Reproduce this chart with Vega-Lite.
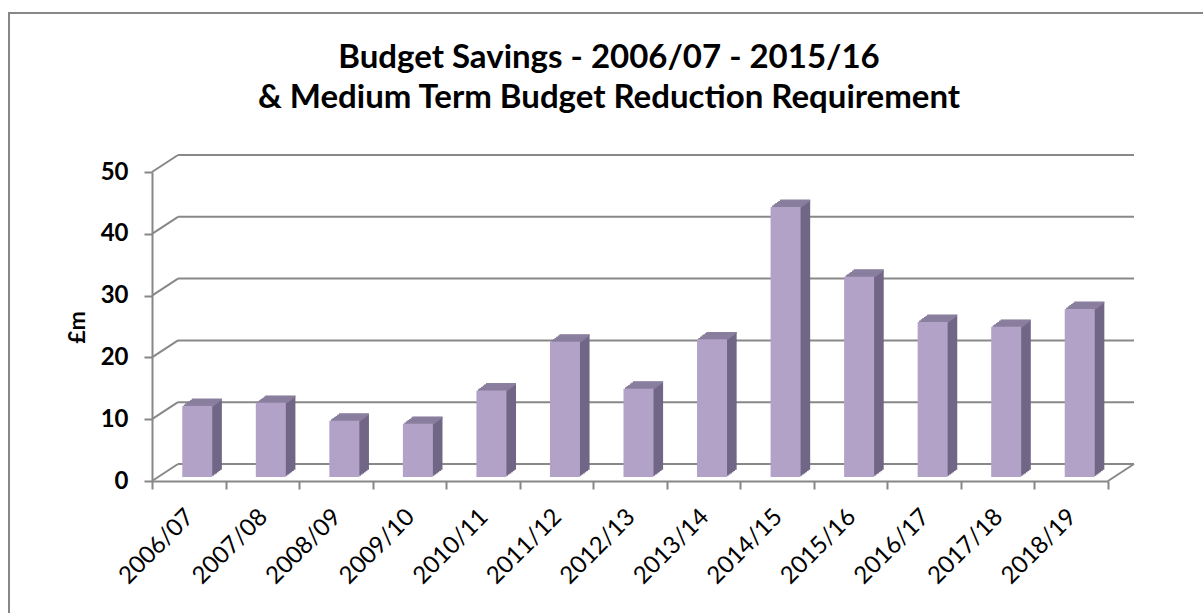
{
  "$schema": "https://vega.github.io/schema/vega-lite/v6.json",
  "width": 1200,
  "height": 605,
  "autosize": "none",
  "padding": {"left": 9, "top": 13, "right": -6, "bottom": -5},
  "background": "white",
  "config": {
    "view": {"stroke": "#878787", "strokeWidth": 2},
    "font": "Lato"
  },
  "title": {
    "text": ["Budget Savings - 2006/07 - 2015/16", "& Medium Term Budget Reduction Requirement"],
    "font": "Lato",
    "fontSize": 33,
    "fontWeight": "bold",
    "color": "#000000",
    "lineHeight": 40,
    "anchor": "middle",
    "frame": "group",
    "baseline": "top",
    "offset": -102
  },
  "datasets": {
    "bars": [
      {"year": "2006/07", "v": 11.5},
      {"year": "2007/08", "v": 12.0},
      {"year": "2008/09", "v": 9.1},
      {"year": "2009/10", "v": 8.6},
      {"year": "2010/11", "v": 14.0},
      {"year": "2011/12", "v": 21.9},
      {"year": "2012/13", "v": 14.3},
      {"year": "2013/14", "v": 22.3},
      {"year": "2014/15", "v": 43.7},
      {"year": "2015/16", "v": 32.4},
      {"year": "2016/17", "v": 25.1},
      {"year": "2017/18", "v": 24.3},
      {"year": "2018/19", "v": 27.2}
    ],
    "grid": [{"g": 0}, {"g": 10}, {"g": 20}, {"g": 30}, {"g": 40}, {"g": 50}],
    "floor": [{"g": 0}]
  },
  "layer": [
    {
      "data": {"name": "bars"},
      "mark": {"type": "bar", "size": 30, "color": "#b3a2c7", "opacity": 0, "xOffset": 8.5, "yOffset": -4, "y2Offset": -4},
      "encoding": {
        "x": {"field": "year", "type": "nominal", "sort": null,
              "scale": {"type": "band", "domain": ["2006/07","2007/08","2008/09","2009/10","2010/11","2011/12","2012/13","2013/14","2014/15","2015/16","2016/17","2017/18","2018/19"], "range": [143, 1099], "paddingInner": 0, "paddingOuter": 0},
              "axis": {"title": null, "orient": "bottom", "offset": -137, "tickBand": "extent", "domainColor": "#878787", "domainWidth": 2,
                       "tickColor": "#878787", "tickWidth": 2, "tickSize": 8, "labelAngle": -45, "labelAlign": "right", "labelBaseline": "middle",
                       "labelPadding": 24, "labelOffset": 1, "labelFont": "Lato", "labelFontSize": 24, "labelColor": "#000000", "labelOverlap": false, "labelBound": false}},
        "y": {"field": "v", "type": "quantitative",
              "scale": {"domain": [0, 50], "range": [468, 159], "nice": false, "zero": true},
              "axis": {"title": "£m", "orient": "left", "offset": -143, "values": [0, 10, 20, 30, 40, 50], "grid": false,
                       "domainColor": "#878787", "domainWidth": 2, "tickColor": "#878787", "tickWidth": 2, "tickSize": 8,
                       "labelPadding": 16, "labelFont": "Lato", "labelFontSize": 24, "labelFontWeight": "bold", "labelColor": "#000000",
                       "titleFont": "Lato", "titleFontSize": 23, "titleFontWeight": "bold", "titleColor": "#000000", "titleAngle": -90,
                       "titleX": -75, "titleY": 314, "titleAlign": "center", "titleBaseline": "middle"}},
        "y2": {"datum": 0}
      }
    },
    {
      "data": {"name": "grid"},
      "mark": {"type": "rule", "color": "#888888", "strokeWidth": 2, "xOffset": 26, "x2Offset": 26, "yOffset": -17, "y2Offset": -17},
      "encoding": {
        "x": {"datum": "2006/07", "type": "nominal", "bandPosition": 0},
        "x2": {"datum": "2018/19", "bandPosition": 1},
        "y": {"field": "g", "type": "quantitative"},
        "y2": {"field": "g"}
      }
    },
    {
      "data": {"name": "grid"},
      "mark": {"type": "rule", "color": "#888888", "strokeWidth": 2, "x2Offset": 26, "y2Offset": -17},
      "encoding": {
        "x": {"datum": "2006/07", "type": "nominal", "bandPosition": 0},
        "x2": {"datum": "2006/07", "bandPosition": 0},
        "y": {"field": "g", "type": "quantitative"},
        "y2": {"field": "g"}
      }
    },
    {
      "data": {"name": "floor"},
      "mark": {"type": "rule", "color": "#888888", "strokeWidth": 2, "x2Offset": 26, "y2Offset": -17},
      "encoding": {
        "x": {"datum": "2018/19", "type": "nominal", "bandPosition": 1},
        "x2": {"datum": "2018/19", "bandPosition": 1},
        "y": {"field": "g", "type": "quantitative"},
        "y2": {"field": "g"}
      }
    },
    {"data": {"name": "bars"}, "mark": {"type": "bar", "size": 30, "color": "#716685", "xOffset": 10.1, "yOffset": -5.2, "y2Offset": -5.2},
     "encoding": {"x": {"field": "year", "type": "nominal"}, "y": {"field": "v", "type": "quantitative"}, "y2": {"datum": 0}}},
    {"data": {"name": "bars"}, "mark": {"type": "bar", "size": 30, "color": "#716685", "xOffset": 11.7, "yOffset": -6.4, "y2Offset": -6.4},
     "encoding": {"x": {"field": "year", "type": "nominal"}, "y": {"field": "v", "type": "quantitative"}, "y2": {"datum": 0}}},
    {"data": {"name": "bars"}, "mark": {"type": "bar", "size": 30, "color": "#716685", "xOffset": 13.3, "yOffset": -7.6, "y2Offset": -7.6},
     "encoding": {"x": {"field": "year", "type": "nominal"}, "y": {"field": "v", "type": "quantitative"}, "y2": {"datum": 0}}},
    {"data": {"name": "bars"}, "mark": {"type": "bar", "size": 30, "color": "#716685", "xOffset": 14.9, "yOffset": -8.8, "y2Offset": -8.8},
     "encoding": {"x": {"field": "year", "type": "nominal"}, "y": {"field": "v", "type": "quantitative"}, "y2": {"datum": 0}}},
    {"data": {"name": "bars"}, "mark": {"type": "bar", "size": 30, "color": "#716685", "xOffset": 16.5, "yOffset": -10.0, "y2Offset": -10.0},
     "encoding": {"x": {"field": "year", "type": "nominal"}, "y": {"field": "v", "type": "quantitative"}, "y2": {"datum": 0}}},
    {"data": {"name": "bars"}, "mark": {"type": "bar", "size": 30, "color": "#716685", "xOffset": 18.1, "yOffset": -11.2, "y2Offset": -11.2},
     "encoding": {"x": {"field": "year", "type": "nominal"}, "y": {"field": "v", "type": "quantitative"}, "y2": {"datum": 0}}},
    {"data": {"name": "bars"}, "mark": {"type": "bar", "size": 30, "color": "#8a7f9e", "xOffset": 10.1, "yOffset": -5.2, "y2Offset": -3.5},
     "encoding": {"x": {"field": "year", "type": "nominal"}, "y": {"field": "v", "type": "quantitative"}, "y2": {"field": "v"}}},
    {"data": {"name": "bars"}, "mark": {"type": "bar", "size": 30, "color": "#8a7f9e", "xOffset": 11.7, "yOffset": -6.4, "y2Offset": -4.7},
     "encoding": {"x": {"field": "year", "type": "nominal"}, "y": {"field": "v", "type": "quantitative"}, "y2": {"field": "v"}}},
    {"data": {"name": "bars"}, "mark": {"type": "bar", "size": 30, "color": "#8a7f9e", "xOffset": 13.3, "yOffset": -7.6, "y2Offset": -5.9},
     "encoding": {"x": {"field": "year", "type": "nominal"}, "y": {"field": "v", "type": "quantitative"}, "y2": {"field": "v"}}},
    {"data": {"name": "bars"}, "mark": {"type": "bar", "size": 30, "color": "#8a7f9e", "xOffset": 14.9, "yOffset": -8.8, "y2Offset": -7.1},
     "encoding": {"x": {"field": "year", "type": "nominal"}, "y": {"field": "v", "type": "quantitative"}, "y2": {"field": "v"}}},
    {"data": {"name": "bars"}, "mark": {"type": "bar", "size": 30, "color": "#8a7f9e", "xOffset": 16.5, "yOffset": -10.0, "y2Offset": -8.3},
     "encoding": {"x": {"field": "year", "type": "nominal"}, "y": {"field": "v", "type": "quantitative"}, "y2": {"field": "v"}}},
    {"data": {"name": "bars"}, "mark": {"type": "bar", "size": 30, "color": "#8a7f9e", "xOffset": 18.1, "yOffset": -11.2, "y2Offset": -9.5},
     "encoding": {"x": {"field": "year", "type": "nominal"}, "y": {"field": "v", "type": "quantitative"}, "y2": {"field": "v"}}},
    {"data": {"name": "bars"}, "mark": {"type": "bar", "size": 30, "color": "#b3a2c7", "xOffset": 8.5, "yOffset": -4, "y2Offset": -4},
     "encoding": {"x": {"field": "year", "type": "nominal"}, "y": {"field": "v", "type": "quantitative"}, "y2": {"datum": 0}}}
  ]
}
